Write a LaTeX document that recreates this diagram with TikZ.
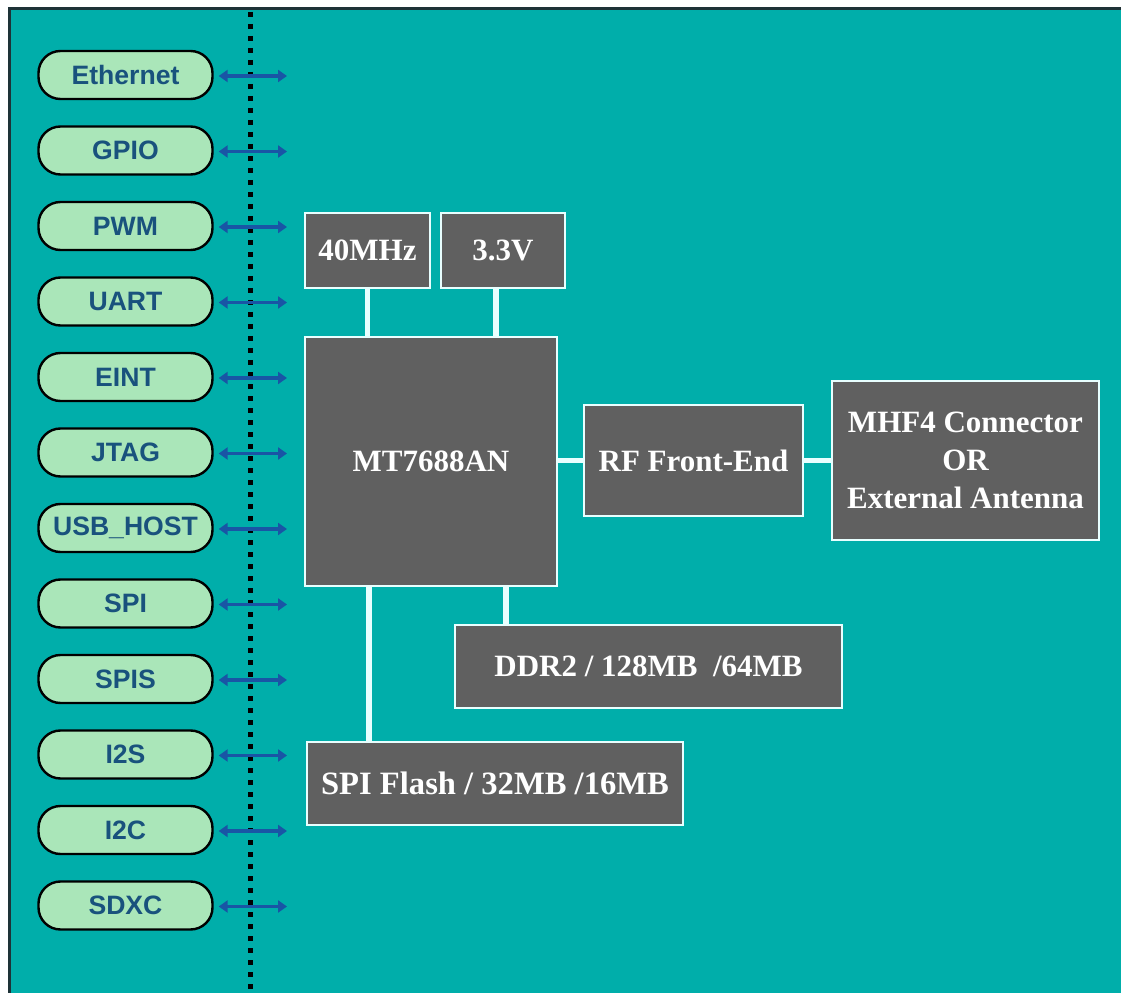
\documentclass[tikz,border=0pt]{standalone}
\usepackage{fontspec}
\setmainfont{Liberation Serif}
\setsansfont{Liberation Sans}
\usetikzlibrary{arrows.meta}
\definecolor{bgteal}{RGB}{0,174,170}
\definecolor{framedark}{RGB}{30,50,55}
\definecolor{pillgreen}{RGB}{170,230,185}
\definecolor{pilltext}{RGB}{25,82,125}
\definecolor{arrowblue}{RGB}{25,85,165}
\definecolor{chipgray}{RGB}{96,96,96}
\definecolor{wirewhite}{RGB}{232,255,255}
\tikzset{
  iface/.style={draw=black, line width=1.2pt, fill=pillgreen, rounded corners=11pt,
    minimum width=87pt, minimum height=24pt, inner sep=0pt,
    font=\sffamily\bfseries\fontsize{13.3}{15}\selectfont, text=pilltext},
  chip/.style={draw=wirewhite, line width=1.1pt, fill=chipgray, inner sep=0pt,
    font=\bfseries\fontsize{15.5}{19}\selectfont, text=white, align=center},
  wire/.style={draw=wirewhite, line width=2.6pt},
  bus/.style={arrowblue, line width=1.6pt, {Triangle[length=4.5pt,width=6pt]}-{Triangle[length=4.5pt,width=6pt]}},
}

\begin{document}
\begin{tikzpicture}[x=0.5pt, y=-0.5pt]
  \useasboundingbox (0,0) rectangle (1121,995);
  % background and frame
  \fill[white] (0,0) rectangle (1121,995);
  \fill[bgteal] (8,8) rectangle (1121,993);
  \draw[framedark, line width=1.5pt] (1121,9) -- (9,9) -- (9,993);
  % divider
  \draw[black, line width=2.5pt, dash pattern=on 2.5pt off 3.5pt] (250,12) -- (250,995);
  % interfaces
  \foreach \lbl [count=\i from 0] in {Ethernet,GPIO,PWM,UART,EINT,JTAG,USB\_HOST,SPI,SPIS,I2S,I2C,SDXC}{
    \node[iface] (if\i) at (125.5,{75+75.5*\i}) {\lbl};
    \coordinate (bus\i) at (287,{76+75.5*\i});
    \draw[bus] ([xshift=2.5pt,yshift=-0.5pt]if\i.east) -- (bus\i);
  }
  % chips
  \node[chip, minimum width=62.5pt, minimum height=37.5pt] (osc)  at (367.5,250.5) {40MHz};
  \node[chip, minimum width=62pt,   minimum height=37.5pt] (pwr)  at (503,250.5)   {3.3V};
  \node[chip, minimum width=126pt,  minimum height=124.5pt] (soc) at (431,461.5)   {MT7688AN};
  \node[chip, minimum width=109.5pt, minimum height=55.5pt] (rf)  at (693.5,460.5) {RF Front-End};
  \node[chip, minimum width=133.5pt, minimum height=79.5pt] (ant) at (965.5,460.5)
    {MHF4 Connector\\OR\\External Antenna};
  \node[chip, minimum width=193.5pt, minimum height=41.5pt] (ddr) at (648.5,666.5) {DDR2 / 128MB ~/64MB};
  \node[chip, minimum width=188pt,   minimum height=41.5pt, font=\bfseries\fontsize{16.3}{19}\selectfont]
    (flash) at (495,783.5) {SPI Flash / 32MB /16MB};
  % wires
  \draw[wire] (osc.south) -- (osc.south |- soc.north);
  \draw[wire] ([xshift=-3.5pt]pwr.south) -- ([xshift=-3.5pt]pwr.south |- soc.north);
  \draw[wire] (rf.west -| soc.east) -- (rf.west);
  \draw[wire] (rf.east) -- (ant.west);
  \draw[wire] ([xshift=37.5pt]soc.south) -- ([xshift=37.5pt]soc.south |- ddr.north);
  \draw[wire] ([xshift=-31pt]soc.south) -- ([xshift=-31pt]soc.south |- flash.north);
\end{tikzpicture}
\end{document}
